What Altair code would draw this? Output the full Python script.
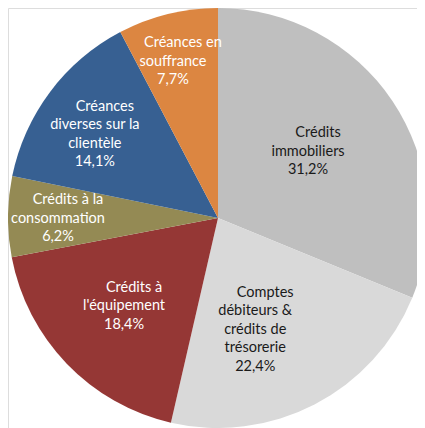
import altair as alt
import pandas as pd

categories = [
    "Crédits immobiliers",
    "Comptes débiteurs & crédits de trésorerie",
    "Crédits à l'équipement",
    "Crédits à la consommation",
    "Créances diverses sur la clientèle",
    "Créances en souffrance",
]
values = [31.2, 22.4, 18.4, 6.2, 14.1, 7.7]
label_lines = [
    ["Crédits", "immobiliers"],
    ["Comptes", "débiteurs &", "crédits de", "trésorerie"],
    ["Crédits à", "l'équipement"],
    ["Crédits à la", "consommation"],
    ["Créances", "diverses sur la", "clientèle"],
    ["Créances en", "souffrance"],
]
colors = ["#BFBFBF", "#D9D9D9", "#953735", "#948A54", "#376092", "#DC8641"]
text_colors = ["#1a1a1a", "#1a1a1a", "white", "white", "white", "white"]

# label placement (style): radius and small nudges per slice
label_radius = [112, 118, 129, 160, 149, 163]
label_nudge = [(-3, -4), (-17, 7), (-1, -1), (0, 2), (-4, 6), (-6, 2)]

total = sum(values)
pie_df = pd.DataFrame({"cat": categories, "value": values, "idx": list(range(len(values)))})

rows = []
cum = 0.0
for i, (c, v) in enumerate(zip(categories, values)):
    mid = cum + v / 2
    cum += v
    lines = label_lines[i] + [f"{v:.1f}".replace(".", ",") + "%"]
    for j, t in enumerate(lines):
        rows.append({"cat": c, "ci": i, "li": j, "n": len(lines), "text": t, "mid": mid})
lab_df = pd.DataFrame(rows)

theta_scale = alt.Scale(domain=[0, total])
CX, CY = 210, 210

pie = alt.Chart(pie_df).mark_arc(outerRadius=210).encode(
    theta=alt.Theta("value:Q", stack=True, scale=theta_scale),
    color=alt.Color("cat:N", scale=alt.Scale(domain=categories, range=colors), legend=None),
    order=alt.Order("idx:Q"),
    x=alt.value(CX),
    y=alt.value(CY),
)

layers = [pie]
LH = 18.5
for r in rows:
    i, j, n = r["ci"], r["li"], r["n"]
    dx = label_nudge[i][0] + (10 if j == 0 else 0)
    dy = label_nudge[i][1] + (j - (n - 1) / 2) * LH
    layers.append(
        alt.Chart(lab_df)
        .transform_filter((alt.datum.ci == i) & (alt.datum.li == j))
        .mark_text(
            radius=label_radius[i],
            dx=dx,
            dy=dy,
            align="center",
            baseline="middle",
            font="Lato",
            fontSize=14.5,
            color=text_colors[i],
        )
        .encode(
            theta=alt.Theta("mid:Q", stack=False, scale=theta_scale),
            text="text:N",
            x=alt.value(CX),
            y=alt.value(CY),
        )
    )

chart = (
    alt.layer(*layers)
    .properties(width=409, height=420, padding=0, autosize=alt.AutoSizeParams(type="none"))
    .configure_view(stroke=None)
    .configure(background="white")
)
chart.save("out.html", embed_options={"renderer": "svg", "actions": False})
